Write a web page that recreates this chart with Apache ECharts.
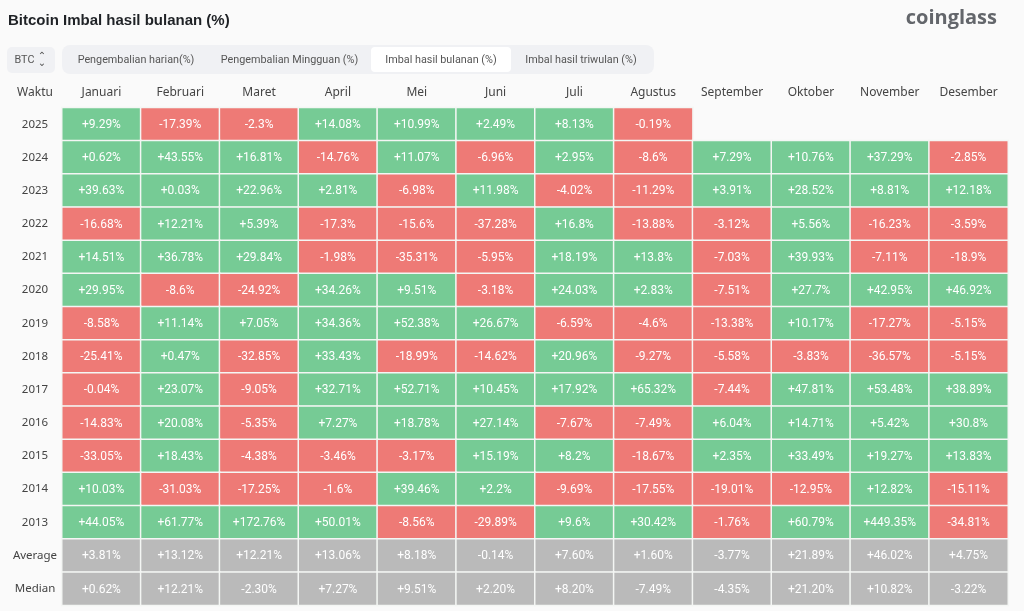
<!DOCTYPE html>
<html>
<head>
<meta charset="utf-8">
<title>Bitcoin Imbal hasil bulanan (%)</title>
<style>
  html, body { margin: 0; padding: 0; background: #fafafa; }
  #chart { width: 1024px; height: 611px; }
</style>
<script src="https://cdn.jsdelivr.net/npm/echarts@6/dist/echarts.min.js"></script>
</head>
<body>
<div id="chart"></div>
<script>
const months = ["Januari", "Februari", "Maret", "April", "Mei", "Juni", "Juli", "Agustus", "September", "Oktober", "November", "Desember"];
const rows = ["2025", "2024", "2023", "2022", "2021", "2020", "2019", "2018", "2017", "2016", "2015", "2014", "2013", "Average", "Median"];

const y2025 = [9.29, -17.39, -2.3, 14.08, 10.99, 2.49, 8.13, -0.19];
const y2024 = [0.62, 43.55, 16.81, -14.76, 11.07, -6.96, 2.95, -8.6, 7.29, 10.76, 37.29, -2.85];
const y2023 = [39.63, 0.03, 22.96, 2.81, -6.98, 11.98, -4.02, -11.29, 3.91, 28.52, 8.81, 12.18];
const y2022 = [-16.68, 12.21, 5.39, -17.3, -15.6, -37.28, 16.8, -13.88, -3.12, 5.56, -16.23, -3.59];
const y2021 = [14.51, 36.78, 29.84, -1.98, -35.31, -5.95, 18.19, 13.8, -7.03, 39.93, -7.11, -18.9];
const y2020 = [29.95, -8.6, -24.92, 34.26, 9.51, -3.18, 24.03, 2.83, -7.51, 27.7, 42.95, 46.92];
const y2019 = [-8.58, 11.14, 7.05, 34.36, 52.38, 26.67, -6.59, -4.6, -13.38, 10.17, -17.27, -5.15];
const y2018 = [-25.41, 0.47, -32.85, 33.43, -18.99, -14.62, 20.96, -9.27, -5.58, -3.83, -36.57, -5.15];
const y2017 = [-0.04, 23.07, -9.05, 32.71, 52.71, 10.45, 17.92, 65.32, -7.44, 47.81, 53.48, 38.89];
const y2016 = [-14.83, 20.08, -5.35, 7.27, 18.78, 27.14, -7.67, -7.49, 6.04, 14.71, 5.42, 30.8];
const y2015 = [-33.05, 18.43, -4.38, -3.46, -3.17, 15.19, 8.2, -18.67, 2.35, 33.49, 19.27, 13.83];
const y2014 = [10.03, -31.03, -17.25, -1.6, 39.46, 2.2, -9.69, -17.55, -19.01, -12.95, 12.82, -15.11];
const y2013 = [44.05, 61.77, 172.76, 50.01, -8.56, -29.89, 9.6, 30.42, -1.76, 60.79, 449.35, -34.81];
const average = [3.81, 13.12, 12.21, 13.06, 8.18, -0.14, 7.6, 1.6, -3.77, 21.89, 46.02, 4.75];
const median = [0.62, 12.21, -2.3, 7.27, 9.51, 2.2, 8.2, -7.49, -4.35, 21.2, 10.82, -3.22];

const tabs = ["Pengembalian harian(%)", "Pengembalian Mingguan (%)", "Imbal hasil bulanan (%)", "Imbal hasil triwulan (%)"];

const rowValues = [y2025, y2024, y2023, y2022, y2021, y2020, y2019, y2018, y2017, y2016, y2015, y2014, y2013, average, median];

const GREEN = "#76cb95";
const RED = "#ee7a76";
const GRAY = "#bababa";
const FONT = "'Noto Sans', sans-serif";
const TAB_FONT = "10.8px Roboto, sans-serif";

function isSummary(r) {
  return r >= rowValues.length - 2;
}

// 一行一行拼 heatmap 数据，颜色按正负，汇总行用灰色
const cells = [];
rowValues.forEach((vals, r) => {
  vals.forEach((v, c) => {
    const color = isSummary(r) ? GRAY : v >= 0 ? GREEN : RED;
    cells.push({ value: [c, r, v], itemStyle: { color } });
  });
});

function fmtCell(p) {
  const r = p.value[1];
  const v = p.value[2];
  const s = isSummary(r) ? v.toFixed(2) : String(v);
  return (v >= 0 ? "+" : "") + s + "%";
}

// 顶部的 tab 条和 BTC 下拉框
function tabGraphics() {
  const centers = [136, 289.5, 441, 581];
  const items = [
    { type: "rect", shape: { x: 7, y: 47, width: 48, height: 26, r: 5 }, style: { fill: "#f0f1f4" } },
    { type: "text", style: { x: 14.5, y: 60.5, text: "BTC", fill: "#555", font: TAB_FONT, textVerticalAlign: "middle" } },
    { type: "text", style: { x: 42, y: 56, text: "⌃", fill: "#555", font: "10px 'DejaVu Sans'", textAlign: "center", textVerticalAlign: "middle" } },
    { type: "text", style: { x: 42, y: 63, text: "⌄", fill: "#555", font: "10px 'DejaVu Sans'", textAlign: "center", textVerticalAlign: "middle" } },
    { type: "rect", shape: { x: 62, y: 45, width: 592, height: 29, r: 8 }, style: { fill: "#f0f1f4" } },
    { type: "rect", shape: { x: 371, y: 47, width: 140, height: 25, r: 4 }, style: { fill: "#ffffff" } },
  ];
  tabs.forEach((t, i) => {
    items.push({
      type: "text",
      style: {
        x: centers[i],
        y: 60.5,
        text: t,
        fill: "#555",
        font: TAB_FONT,
        textAlign: "center",
        textVerticalAlign: "middle",
      },
    });
  });
  items.push({
    type: "text",
    style: { x: 997, y: 18, text: "coinglass", fill: "#63666b", font: "bold 20px 'Open Sans', sans-serif", textAlign: "right", textVerticalAlign: "middle" },
  });
  items.push({
    type: "text",
    style: { x: 35, y: 92.5, text: "Waktu", fill: "#444", font: "12px " + FONT, textAlign: "center", textVerticalAlign: "middle" },
  });
  return items;
}

const chart = echarts.init(document.getElementById("chart"), null, { renderer: "canvas" });

chart.setOption({
  backgroundColor: "#fafafa",
  animation: false,
  title: {
    text: "Bitcoin Imbal hasil bulanan (%)",
    left: 3,
    top: 8,
    textStyle: { fontFamily: "'Liberation Sans', sans-serif", fontSize: 15, fontWeight: 700, color: "#1f2226" },
  },
  grid: { left: 62, right: 16, top: 107.7, bottom: 5.7 },
  xAxis: {
    type: "category",
    position: "top",
    data: months,
    axisLine: { show: false },
    axisTick: { show: false },
    splitLine: { show: false },
    axisLabel: { margin: 9.5, interval: 0, color: "#444", fontSize: 12, fontFamily: FONT },
  },
  yAxis: {
    type: "category",
    inverse: true,
    data: rows,
    axisLine: { show: false },
    axisTick: { show: false },
    splitLine: { show: false },
    axisLabel: { margin: 27, align: "center", interval: 0, color: "#444", fontSize: 11.5, fontFamily: FONT },
  },
  graphic: tabGraphics(),
  series: [
    {
      type: "heatmap",
      data: cells,
      itemStyle: { borderColor: "#f4f6f4", borderWidth: 1.5 },
      label: {
        show: true,
        formatter: fmtCell,
        offset: [0, 0.8],
        color: "#ffffff",
        fontSize: 12,
        fontFamily: "Roboto, sans-serif",
      },
    },
  ],
});

window.addEventListener("resize", () => chart.resize());
</script>
</body>
</html>
